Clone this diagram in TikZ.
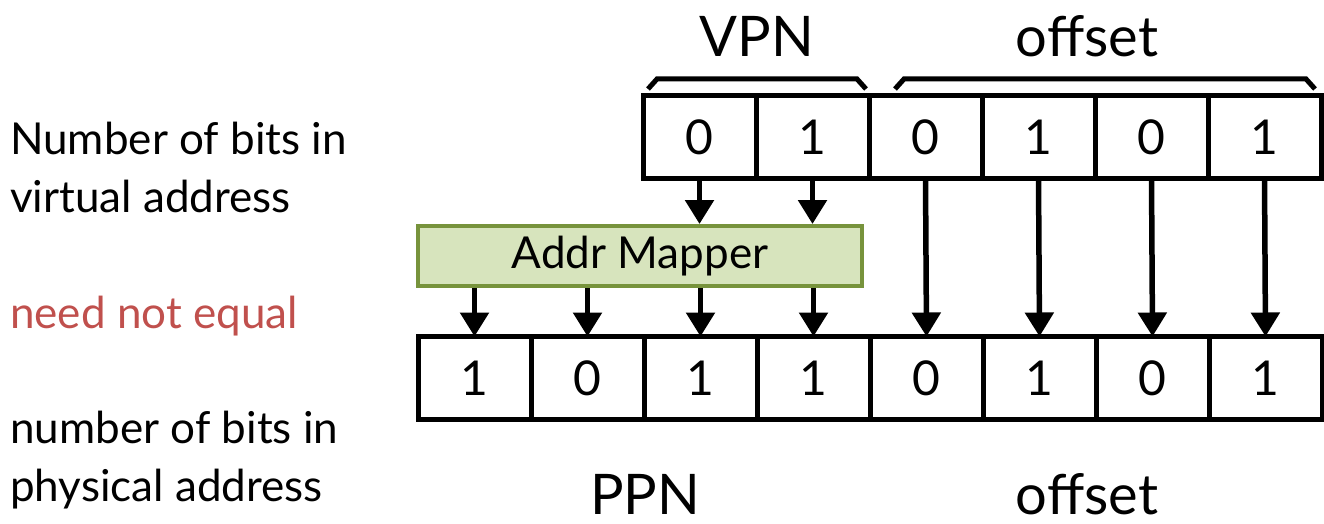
\documentclass[tikz,border=0pt]{standalone}
\usepackage{fontspec}
\setmainfont{Lato}
\usetikzlibrary{arrows.meta}
\definecolor{notered}{HTML}{C0504D}
\definecolor{mapfill}{HTML}{D7E4BD}
\definecolor{mapline}{HTML}{77933C}
\tikzset{
  bit/.style={draw, line width=5pt, minimum width=113pt, minimum height=83pt,
    inner sep=0pt, outer sep=0pt, font=\fontsize{48}{48}\selectfont},
  fieldbrace/.style={line width=5pt},
  bitarrow/.style={line width=5.5pt, -{Triangle[width=28pt,length=24pt]}},
  sidetext/.style={anchor=base west, inner sep=0pt, font=\fontsize{44}{48}\selectfont},
  fieldname/.style={inner sep=0pt, font=\fontsize{56}{60}\selectfont},
}
\begin{document}
\begin{tikzpicture}[x=1pt, y=-1pt]
  \useasboundingbox (0,0) rectangle (1324,524);
  % virtual address bits
  \foreach \b [count=\i from 0] in {0,1,0,1,0,1}
    \node[bit] (t\i) at (699.5+113*\i, 137) {\b};
  % physical address bits
  \foreach \b [count=\i from 0] in {1,0,1,1,0,1,0,1}
    \node[bit] (b\i) at (474.5+113*\i, 378) {\b};
  \node[draw=mapline, fill=mapfill, line width=4pt, minimum width=444pt,
    minimum height=60pt, font=\fontsize{44}{44}\selectfont] (mapper) at (640,256) {Addr Mapper};
  % braces over the fields
  \draw[fieldbrace] (648,89) -- (657,79) -- (857,79) -- (866,89);
  \draw[fieldbrace] (895,89) -- (904,79) -- (1306,79) -- (1315,89);
  \node[fieldname] (vpn) at (757,36) {VPN};
  \node[fieldname] (voff) at (1087,36) {offset};
  \node[fieldname] (ppn) at (645,494) {PPN};
  \node[fieldname] (poff) at (1087,494) {offset};
  % arrows
  \foreach \i in {0,1}
    \draw[bitarrow] (t\i.south) -- (t\i.south |- mapper.north);
  \foreach \i in {0,...,3}
    \draw[bitarrow] (mapper.south -| b\i.north) -- (b\i.north);
  \foreach \i [evaluate=\i as \j using int(\i+2)] in {2,...,5}
    \draw[bitarrow] (t\i.south) -- (b\j.north);
  % side notes
  \node[sidetext] (n1) at (10,154) {Number of bits in};
  \node[sidetext] (n2) at (10,212) {virtual address};
  \node[sidetext, text=notered] (n3) at (10,328) {need not equal};
  \node[sidetext] (n4) at (10,443) {number of bits in};
  \node[sidetext] (n5) at (10,501) {physical address};
\end{tikzpicture}
\end{document}
